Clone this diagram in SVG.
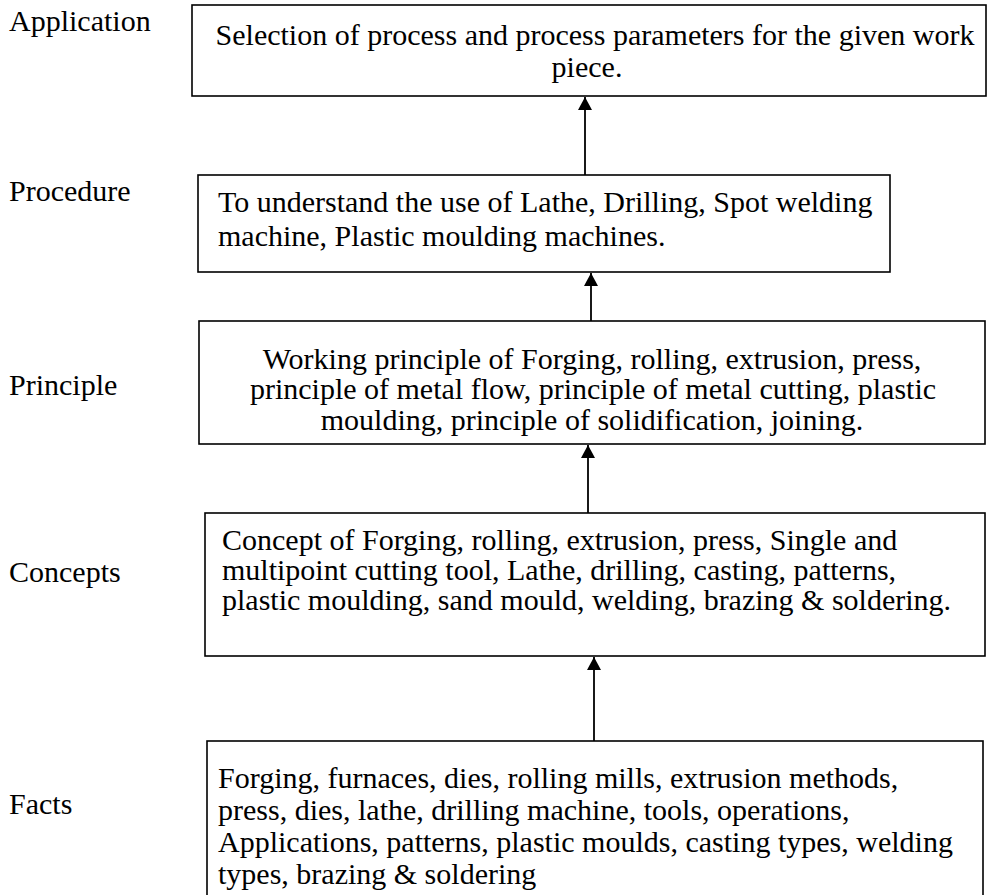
<svg xmlns="http://www.w3.org/2000/svg" width="988" height="895" viewBox="0 0 988 895">
<defs>
<style>
.box{fill:#fff;stroke:#000;stroke-width:1.6}
.t{font-family:"Liberation Serif","Times New Roman",serif;font-size:30px;fill:#000}
.c{text-anchor:middle}
.con{stroke:#000;stroke-width:1.8;fill:none}
</style>
<marker id="ah" markerUnits="userSpaceOnUse" markerWidth="14" markerHeight="14" viewBox="0 0 14 14" refX="13" refY="7" orient="auto">
<path d="M0,0 L13,7 L0,14 Z" fill="#000"/>
</marker>
</defs>
<rect width="988" height="895" fill="#fff"/>
<g id="labels">
<text class="t" x="9" y="31">Application</text>
<text class="t" x="9" y="201">Procedure</text>
<text class="t" x="9" y="395">Principle</text>
<text class="t" x="9" y="582">Concepts</text>
<text class="t" x="9" y="814">Facts</text>
</g>
<g id="application">
<rect class="box" x="192" y="5" width="794" height="91"/>
<text class="t c" x="595" y="45">Selection of process and process parameters for the given work</text>
<text class="t c" x="587" y="77">piece.</text>
</g>
<g id="procedure">
<rect class="box" x="198" y="175" width="692" height="97"/>
<text class="t" x="218" y="212">To understand the use of Lathe, Drilling, Spot welding</text>
<text class="t" x="218" y="246">machine, Plastic moulding machines.</text>
</g>
<g id="principle">
<rect class="box" x="199" y="321" width="786" height="123"/>
<text class="t c" x="592" y="369">Working principle of Forging, rolling, extrusion, press,</text>
<text class="t c" x="593" y="399">principle of metal flow, principle of metal cutting, plastic</text>
<text class="t c" x="592" y="430">moulding, principle of solidification, joining.</text>
</g>
<g id="concepts">
<rect class="box" x="205" y="513" width="780" height="143"/>
<text class="t" x="222" y="550">Concept of Forging, rolling, extrusion, press, Single and</text>
<text class="t" x="222" y="580">multipoint cutting tool, Lathe, drilling, casting, patterns,</text>
<text class="t" x="222" y="610">plastic moulding, sand mould, welding, brazing &amp; soldering.</text>
</g>
<g id="facts">
<rect class="box" x="207" y="741" width="776" height="170"/>
<text class="t" x="218" y="788">Forging, furnaces, dies, rolling mills, extrusion methods,</text>
<text class="t" x="218" y="820">press, dies, lathe, drilling machine, tools, operations,</text>
<text class="t" x="218" y="852">Applications, patterns, plastic moulds, casting types, welding</text>
<text class="t" x="218" y="884">types, brazing &amp; soldering</text>
</g>
<g id="connectors">
<line class="con" x1="585" y1="175" x2="585" y2="97" marker-end="url(#ah)"/>
<line class="con" x1="591" y1="321" x2="591" y2="273" marker-end="url(#ah)"/>
<line class="con" x1="588" y1="513" x2="588" y2="445" marker-end="url(#ah)"/>
<line class="con" x1="594" y1="741" x2="594" y2="657" marker-end="url(#ah)"/>
</g>
</svg>
